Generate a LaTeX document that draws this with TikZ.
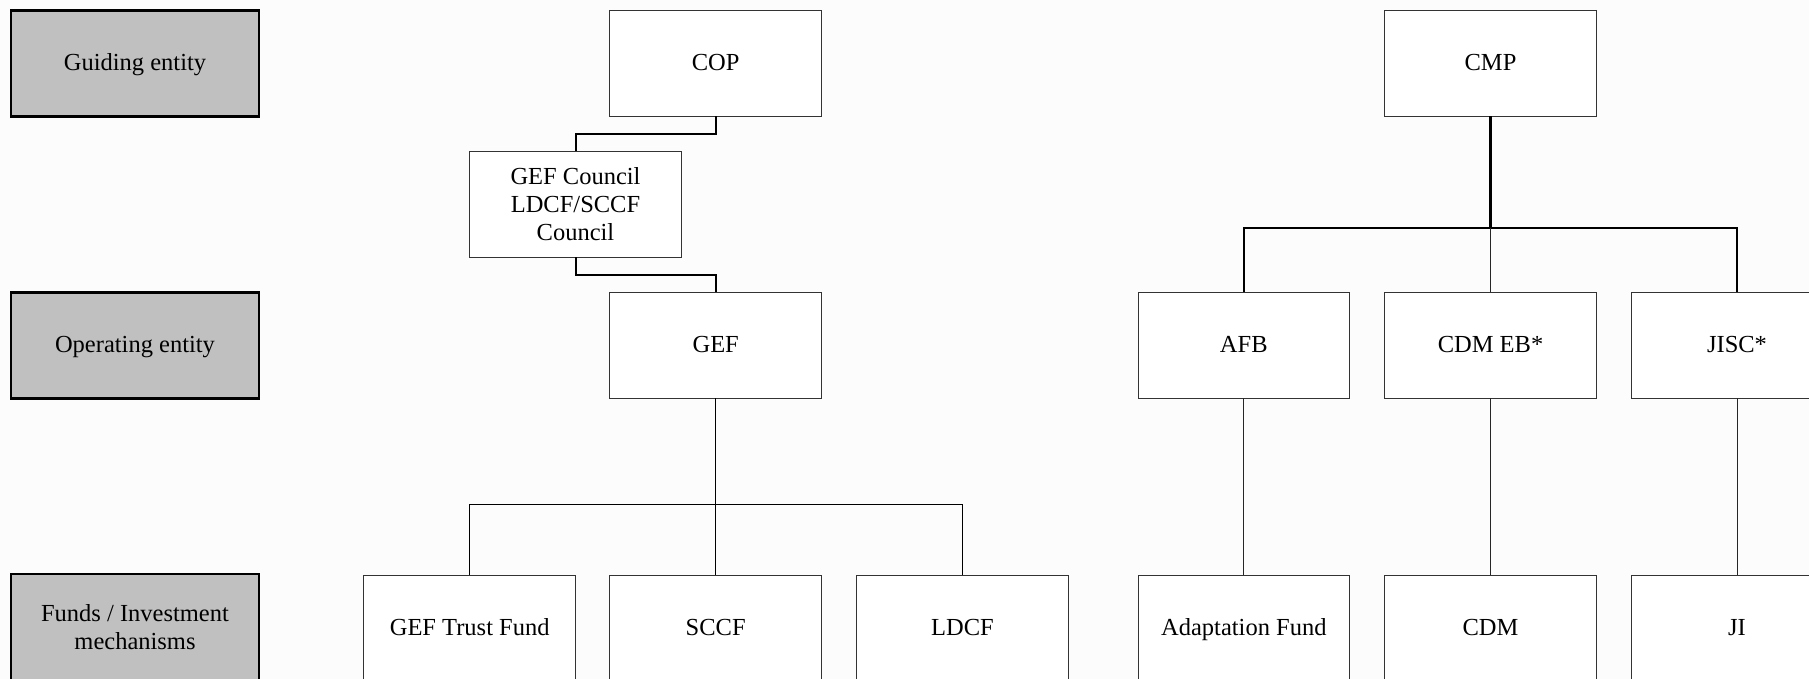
\documentclass[tikz,border=0pt]{standalone}
\usepackage{fontspec}
\setmainfont{Liberation Serif}
\definecolor{bg}{RGB}{252,252,252}
\definecolor{lab}{RGB}{192,192,192}
\tikzset{
  txt/.style={font=\fontsize{24.5}{28.3}\selectfont, align=center, inner sep=0pt, outer sep=0pt},
  unit/.style={txt, draw=black!80, line width=1pt, fill=white, minimum width=211.5pt, minimum height=106pt},
  oneline/.style={text height=18pt, text depth=4pt},
  levelbox/.style={txt, draw=black, line width=2.5pt, fill=lab, minimum width=248pt, minimum height=106pt},
  thickline/.style={line width=2pt, black},
  medline/.style={line width=1.5pt, black},
  thinline/.style={line width=1pt, black!85},
}
\begin{document}
\begin{tikzpicture}[x=1pt,y=-1pt]
\useasboundingbox (0,0) rectangle (1809,679);
\clip (0,0) rectangle (1809,679);
\fill[bg] (0,0) rectangle (1809,679);

% level labels
\node[levelbox, oneline] (lguide) at (135,63.7) {Guiding entity};
\node[levelbox, oneline] (loper) at (135,345.5) {Operating entity};
\node[levelbox] (lfunds) at (135,627.2) {Funds / Investment\\mechanisms};

% COP branch
\node[unit, oneline] (cop) at (715.7,63.5) {COP};
\node[unit] (council) at (575.5,204.2) {GEF Council\\LDCF/SCCF\\Council};
\node[unit, oneline] (gef) at (715.7,345.3) {GEF};
\node[unit, oneline] (gtf) at (469.7,628) {GEF Trust Fund};
\node[unit, oneline] (sccf) at (715.7,628) {SCCF};
\node[unit, oneline] (ldcf) at (962.5,628) {LDCF};

% CMP branch
\node[unit, oneline] (cmp) at (1490.5,63.5) {CMP};
\node[unit, oneline] (afb) at (1243.8,345.3) {AFB};
\node[unit, oneline] (cdmeb) at (1490.5,345.3) {CDM EB*};
\node[unit, oneline] (jisc) at (1737,345.3) {JISC*};
\node[unit, oneline] (af) at (1243.8,628) {Adaptation Fund};
\node[unit, oneline] (cdm) at (1490.5,628) {CDM};
\node[unit, oneline] (ji) at (1737,628) {JI};

% connectors, COP side
\draw[thickline] (cop.south) -- ++(0,17.5) -| (council.north);
\draw[thickline] (council.south) -- ++(0,18) -| (gef.north);
\coordinate (gbus) at (715.7,504.5);
\draw[medline] (gef.south) -- (gbus);
\draw[medline] (gtf.north) |- (gbus) -| (ldcf.north);
\draw[medline] (gbus) -- (sccf.north);

% connectors, CMP side
\coordinate (cbus) at (1490.5,227.7);
\draw[line width=2.4pt] (cmp.south) -- (cbus);
\draw[thickline] (afb.north) |- (cbus) -| (jisc.north);
\draw[thinline] (cbus) -- (cdmeb.north);
\draw[thinline] (afb.south) -- (af.north);
\draw[thinline] (cdmeb.south) -- (cdm.north);
\draw[thinline] (jisc.south) -- (ji.north);
\end{tikzpicture}
\end{document}
